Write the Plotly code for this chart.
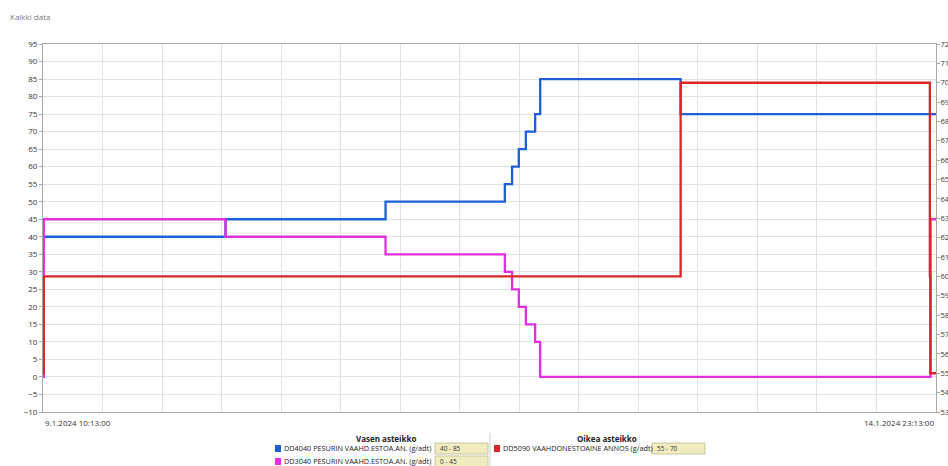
import pandas as pd
import plotly.graph_objects as go

# ---- data ----
x_start = "2024-01-09 10:13:00"
x_end = "2024-01-14 23:13:00"
x_start_label = "9.1.2024 10:13:00"
x_end_label = "14.1.2024 23:13:00"

blue_name = "DD4040 PESURIN VAAHD.ESTOA.AN. (g/adt)"
blue_times = ["2024-01-09 10:13", "2024-01-10 13:24", "2024-01-11 13:14", "2024-01-12 07:00",
              "2024-01-12 08:05", "2024-01-12 09:05", "2024-01-12 10:08", "2024-01-12 11:31",
              "2024-01-12 12:16", "2024-01-13 09:11", "2024-01-14 23:13"]
blue_values = [40, 45, 50, 55, 60, 65, 70, 75, 85, 75, 75]

magenta_name = "DD3040 PESURIN VAAHD.ESTOA.AN. (g/adt)"
magenta_times = ["2024-01-09 10:13", "2024-01-09 10:20", "2024-01-10 13:24", "2024-01-11 13:14",
                 "2024-01-12 07:00", "2024-01-12 08:05", "2024-01-12 09:05", "2024-01-12 10:08",
                 "2024-01-12 11:31", "2024-01-12 12:16", "2024-01-14 22:25", "2024-01-14 23:13"]
magenta_values = [0, 45, 40, 35, 30, 25, 20, 15, 10, 0, 45, 45]

red_name = "DD5090 VAAHDONESTOAINE ANNOS (g/adt)"
red_times = ["2024-01-09 10:13", "2024-01-09 10:20", "2024-01-13 09:11", "2024-01-14 22:18",
             "2024-01-14 22:22", "2024-01-14 23:13"]
red_values = [55, 60, 70, 60, 55, 55]

left_title = "Vasen asteikko"
right_title = "Oikea asteikko"
chart_title = "Kaikki data"

BLUE = "#1f5fd6"
MAGENTA = "#e02ee0"
RED = "#d92626"

# ---- layout (page pixels; body margin removed below) ----
W, H = 948, 466
PL, PR, PT, PB = 43, 936, 44, 412          # plot area in page pixels
L, R, T, B = PL, W - PR, PT, H - PB


def PX(x):
    return (x - PL) / (PR - PL)


def PY(y):
    return (PB - y) / (PB - PT)


fig = go.Figure()
fig.add_trace(go.Scatter(x=pd.to_datetime(blue_times), y=blue_values, mode="lines",
                         line=dict(color=BLUE, width=2.3, shape="hv"), name=blue_name))
fig.add_trace(go.Scatter(x=pd.to_datetime(magenta_times), y=magenta_values, mode="lines",
                         line=dict(color=MAGENTA, width=2.3, shape="hv"), name=magenta_name))
fig.add_trace(go.Scatter(x=pd.to_datetime(red_times), y=red_values, mode="lines", yaxis="y2",
                         line=dict(color=RED, width=2.3, shape="hv"), name=red_name))

grid_vals = pd.date_range(x_start, x_end, periods=16)
FONT = "Open Sans, Noto Sans, sans-serif"

fig.update_layout(
    width=W, height=H, autosize=False,
    margin=dict(l=L, r=R, t=T, b=B, autoexpand=False),
    paper_bgcolor="white", plot_bgcolor="white",
    showlegend=False,
    font=dict(family=FONT, size=8, color="#333333"),
    xaxis=dict(type="date", range=[x_start, x_end], tickvals=grid_vals, showticklabels=False,
               showgrid=True, gridcolor="#e2e2e2", gridwidth=1, zeroline=False, automargin=False,
               showline=True, linecolor="#a8a8a8", linewidth=1, mirror=True, ticks=""),
    yaxis=dict(range=[-10, 95], dtick=5, tick0=0, showgrid=True, gridcolor="#e2e2e2",
               zeroline=False, showline=True, linecolor="#a8a8a8", linewidth=1, automargin=False,
               ticks="outside", ticklen=3, tickcolor="#a8a8a8",
               tickfont=dict(size=8, color="#333333")),
    yaxis2=dict(range=[53, 72], dtick=1, tick0=53, overlaying="y", side="right",
                showgrid=False, zeroline=False, showline=True, linecolor="#a8a8a8",
                automargin=False, ticklabelstandoff=-1,
                ticks="outside", ticklen=3, tickcolor="#a8a8a8",
                tickfont=dict(size=7.5, color="#333333")),
)

ann = []
shapes = []
ann.append(dict(text=chart_title, x=PX(8), y=PY(17), xref="paper", yref="paper",
                xanchor="left", yanchor="middle", showarrow=False,
                font=dict(size=8, color="#777777")))
ann.append(dict(text=x_start_label, x=0, y=PY(422), xref="paper", yref="paper",
                xanchor="left", yanchor="middle", showarrow=False, font=dict(size=8)))
ann.append(dict(text=x_end_label, x=1, y=PY(422), xref="paper", yref="paper",
                xanchor="right", yanchor="middle", showarrow=False, font=dict(size=8)))

# legend block
ann.append(dict(text="<b>" + left_title + "</b>", x=PX(386), y=PY(438.5), xref="paper", yref="paper",
                xanchor="center", yanchor="middle", showarrow=False, font=dict(size=8, color="#222")))
ann.append(dict(text="<b>" + right_title + "</b>", x=PX(607), y=PY(438.5), xref="paper", yref="paper",
                xanchor="center", yanchor="middle", showarrow=False, font=dict(size=8, color="#222")))

shapes.append(dict(type="line", xref="paper", yref="paper", x0=PX(490), x1=PX(490),
                   y0=PY(433), y1=PY(470), line=dict(color="#d0d0d0", width=1)))

rows = [
    (blue_name, BLUE, blue_values, 275, 448.5, 435),
    (magenta_name, MAGENTA, magenta_values, 275, 461.5, 435),
    (red_name, RED, red_values, 494, 448.5, 652),
]
for name, col, vals, x0, yc, bx in rows:
    shapes.append(dict(type="rect", xref="paper", yref="paper", x0=PX(x0), x1=PX(x0 + 6),
                       y0=PY(yc - 3.5), y1=PY(yc + 3.5), fillcolor=col, line=dict(width=0)))
    ann.append(dict(text=name, x=PX(x0 + 7), y=PY(yc), xref="paper", yref="paper",
                    xanchor="left", yanchor="middle", showarrow=False,
                    font=dict(size=7.3, color="#222")))
    shapes.append(dict(type="rect", xref="paper", yref="paper", x0=PX(bx), x1=PX(bx + 53),
                       y0=PY(yc - 5.5), y1=PY(yc + 5.5), fillcolor="#f1ecbf",
                       line=dict(color="#c9c4a0", width=1)))
    ann.append(dict(text=f"{min(vals)} - {max(vals)}", x=PX(bx + 3), y=PY(yc), xref="paper",
                    yref="paper", xanchor="left", yanchor="middle", showarrow=False,
                    font=dict(size=6.5, color="#333")))

fig.update_layout(annotations=ann, shapes=shapes)
fig.write_html("out.html", config={"displayModeBar": False},
               post_script="document.body.style.margin='0';document.body.style.overflow='hidden';")
